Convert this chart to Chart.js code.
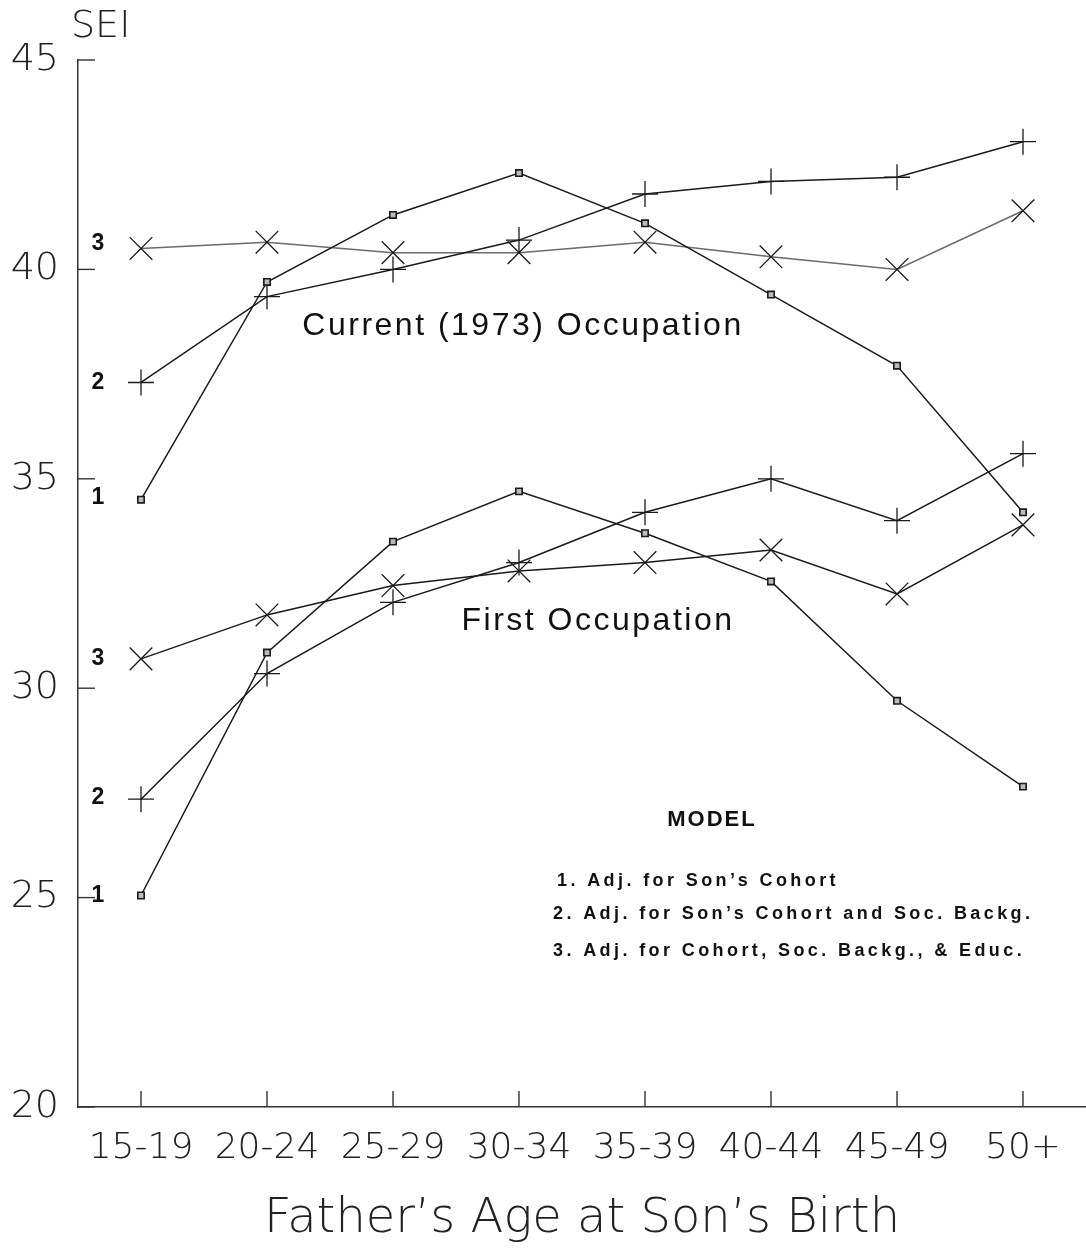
<!DOCTYPE html>
<html>
<head>
<meta charset="utf-8">
<script src="https://cdn.jsdelivr.net/npm/chart.js@4/dist/chart.umd.min.js"></script>
<style>
  html, body { margin: 0; padding: 0; background: #fff; overflow: hidden; }
  #wrap { width: 1086px; height: 1253px; position: relative; }
  canvas { display: block; }
</style>
</head>
<body>
<div id="wrap"><canvas id="myChart"></canvas></div>
<script>
// categories and values
var categories = ['15-19', '20-24', '25-29', '30-34', '35-39', '40-44', '45-49', '50+'];

// Current (1973) Occupation
var currentModel1 = [34.5, 39.7, 41.3, 42.3, 41.1, 39.4, 37.7, 34.2];
var currentModel2 = [37.3, 39.35, 40.0, 40.7, 41.8, 42.1, 42.2, 43.05];
var currentModel3 = [40.5, 40.65, 40.4, 40.4, 40.65, 40.3, 40.0, 41.4];

// First Occupation
var firstModel1 = [25.05, 30.85, 33.5, 34.7, 33.7, 32.55, 29.7, 27.65];
var firstModel2 = [27.35, 30.35, 32.05, 33.0, 34.2, 35.0, 34.0, 35.6];
var firstModel3 = [30.7, 31.75, 32.45, 32.8, 33.0, 33.3, 32.25, 33.9];

var yMin = 20, yMax = 45, yStep = 5;

var modelNotes = [
    '1. Adj. for Son\u2019s Cohort',
    '2. Adj. for Son\u2019s Cohort and Soc. Backg.',
    '3. Adj. for Cohort, Soc. Backg., & Educ.'
];

var thinFont = '"DejaVu Sans", sans-serif';
var plainFont = '"Liberation Sans", Arial, sans-serif';
var ink = '#1a1a1a';

function lineSet(label, data, style, radius, color) {
    return {
        label: label,
        data: data,
        borderColor: color || ink,
        borderWidth: 1.5,
        tension: 0,
        fill: false,
        pointStyle: style,
        pointRadius: radius,
        pointHoverRadius: radius,
        pointBorderColor: ink,
        pointBorderWidth: style == 'rect' ? 1.6 : 1.3,
        pointBackgroundColor: style == 'rect' ? '#bbb' : ink
    };
}

// inward ticks, number labels, annotations
var decorations = {
    id: 'decorations',
    afterDraw: function(chart) {
        var ctx = chart.ctx;
        var area = chart.chartArea;
        var xs = chart.scales.x, ys = chart.scales.y;
        ctx.save();
        ctx.strokeStyle = '#333';
        ctx.lineWidth = 1.4;
        ys.ticks.forEach(function(t) {
            var py = ys.getPixelForValue(t.value);
            ctx.beginPath();
            ctx.moveTo(area.left, py);
            ctx.lineTo(area.left + 17, py);
            ctx.stroke();
        });
        categories.forEach(function(c, i) {
            var px = xs.getPixelForValue(i);
            ctx.beginPath();
            ctx.moveTo(px, area.bottom);
            ctx.lineTo(px, area.bottom - 16);
            ctx.stroke();
        });

        // SEI
        ctx.fillStyle = '#222';
        ctx.font = '200 38px ' + thinFont;
        ctx.textAlign = 'left';
        ctx.textBaseline = 'middle';
        ctx.fillText('SEI', 71, 27);

        // model numbers beside the first points
        ctx.fillStyle = '#111';
        ctx.font = 'bold 23px ' + plainFont;
        ctx.textAlign = 'center';
        var x0 = xs.getPixelForValue(0) - 43;
        [[currentModel3, '3', -5], [currentModel2, '2', 0], [currentModel1, '1', -2],
         [firstModel3, '3', 0], [firstModel2, '2', -2], [firstModel1, '1', 0]].forEach(function(s) {
            ctx.fillText(s[1], x0, ys.getPixelForValue(s[0][0]) + s[2]);
        });

        // group captions
        ctx.font = '32px ' + plainFont;
        ctx.letterSpacing = '2.5px';
        ctx.fillText('Current (1973) Occupation', 523, 326);
        ctx.fillText('First Occupation', 598, 621);

        ctx.font = 'bold 22px ' + plainFont;
        ctx.letterSpacing = '2px';
        ctx.fillText('MODEL', 712, 820);

        ctx.font = 'bold 18px ' + plainFont;
        ctx.letterSpacing = '3.4px';
        ctx.textAlign = 'left';
        ctx.fillText(modelNotes[0], 557, 881);
        ctx.fillText(modelNotes[1], 553, 914);
        ctx.fillText(modelNotes[2], 553, 951);
        ctx.restore();
    }
};

var chart = new Chart(document.getElementById('myChart').getContext('2d'), {
    type: 'line',
    data: {
        labels: categories,
        datasets: [
            lineSet('Current 1', currentModel1, 'rect', 4.5),
            lineSet('Current 2', currentModel2, 'cross', 13),
            lineSet('Current 3', currentModel3, 'crossRot', 16, '#6a6a6a'),
            lineSet('First 1', firstModel1, 'rect', 4.5),
            lineSet('First 2', firstModel2, 'cross', 13),
            lineSet('First 3', firstModel3, 'crossRot', 16)
        ]
    },
    options: {
        responsive: true,
        maintainAspectRatio: false,
        animation: false,
        layout: { autoPadding: false, padding: { top: 60, right: 0, bottom: 0, left: 0 } },
        plugins: {
            legend: { display: false },
            tooltip: { enabled: false }
        },
        scales: {
            x: {
                type: 'category',
                offset: true,
                grid: { display: false },
                border: { display: true, color: '#333', width: 1.5 },
                ticks: {
                    color: '#222',
                    padding: 12,
                    maxRotation: 0,
                    autoSkip: false,
                    font: { family: thinFont, size: 36, weight: 200 }
                },
                title: {
                    display: true,
                    text: 'Father\u2019s Age at Son\u2019s Birth',
                    color: '#222',
                    padding: { top: 0, bottom: 5 },
                    font: { family: thinFont, size: 48, weight: 200 }
                },
                afterFit: function(scale) {
                    scale.height = 146;
                    scale.paddingLeft = 0;
                    scale.paddingRight = 0;
                }
            },
            y: {
                min: yMin,
                max: yMax,
                grid: { display: false },
                border: { display: true, color: '#333', width: 1.5 },
                ticks: {
                    stepSize: yStep,
                    color: '#222',
                    padding: 11,
                    font: { family: thinFont, size: 38, weight: 200 }
                },
                afterFit: function(scale) { scale.width = 78; }
            }
        }
    },
    plugins: [decorations]
});
</script>
</body>
</html>
